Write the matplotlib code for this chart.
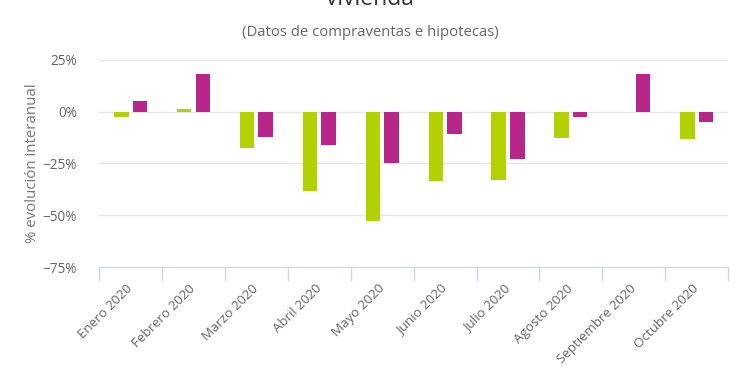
import numpy as np
import matplotlib
matplotlib.use("Agg")
import matplotlib.pyplot as plt
from matplotlib.ticker import FixedLocator

# ---- data ----
meses = ["Enero 2020", "Febrero 2020", "Marzo 2020", "Abril 2020", "Mayo 2020",
         "Junio 2020", "Julio 2020", "Agosto 2020", "Septiembre 2020", "Octubre 2020"]
compraventas = [-2.4, 1.1, -17.4, -38.2, -52.7, -33.5, -33.0, -12.7, np.nan, -13.2]
hipotecas = [5.2, 18.4, -12.1, -16.3, -24.7, -10.9, -22.7, -2.6, 18.4, -4.8]
yticks = [-75, -50, -25, 0, 25]

VERDE = "#b3d100"
MAGENTA = "#b8268a"
GRIS = "#666666"

plt.rcParams["font.family"] = ["Open Sans", "DejaVu Sans"]

fig = plt.figure(figsize=(7.4, 3.89), dpi=100)
ax = fig.add_axes([0.134, 0.3136, 0.850, 0.5322])

for s in ["top", "right", "left"]:
    ax.spines[s].set_visible(False)
ax.spines["bottom"].set_color("#ccd6eb")

x = np.arange(len(meses))
w = 0.23
ax.bar(x - 0.148, compraventas, width=w, color=VERDE, zorder=3)
ax.bar(x + 0.148, hipotecas, width=w, color=MAGENTA, zorder=3)

ax.set_xlim(-0.5, len(meses) - 0.5)
ax.set_ylim(-75, 25)
ax.set_yticks(yticks)
ax.set_yticklabels([f"{v}%".replace("-", "\u2212") for v in yticks])
ax.yaxis.grid(True, color="#e6e6e6", lw=1, zorder=0)
ax.tick_params(axis="y", length=0, pad=16, labelsize=9.8, labelcolor=GRIS)

ax.set_xticks(x)
ax.set_xticklabels(meses, rotation=45, ha="right", va="center",
                   rotation_mode="anchor", fontsize=9.6, color=GRIS)
ax.tick_params(axis="x", which="major", length=0, pad=14)
ax.xaxis.set_minor_locator(FixedLocator(np.arange(-0.5, len(meses), 1.0)))
ax.tick_params(axis="x", which="minor", length=10, color="#ccd6eb", width=1)

ax.set_ylabel("% evolución interanual", color="#777777", fontsize=10.8, labelpad=2)

fig.text(0.5, 1 - 5 / 389, "vivienda", ha="center", va="baseline",
         fontsize=16.5, color="#333333")
fig.text(0.5, 1 - 33 / 389, "(Datos de compraventas e hipotecas)", ha="center",
         va="center", fontsize=10.7, color=GRIS)

fig.savefig("out.png", dpi=100)
